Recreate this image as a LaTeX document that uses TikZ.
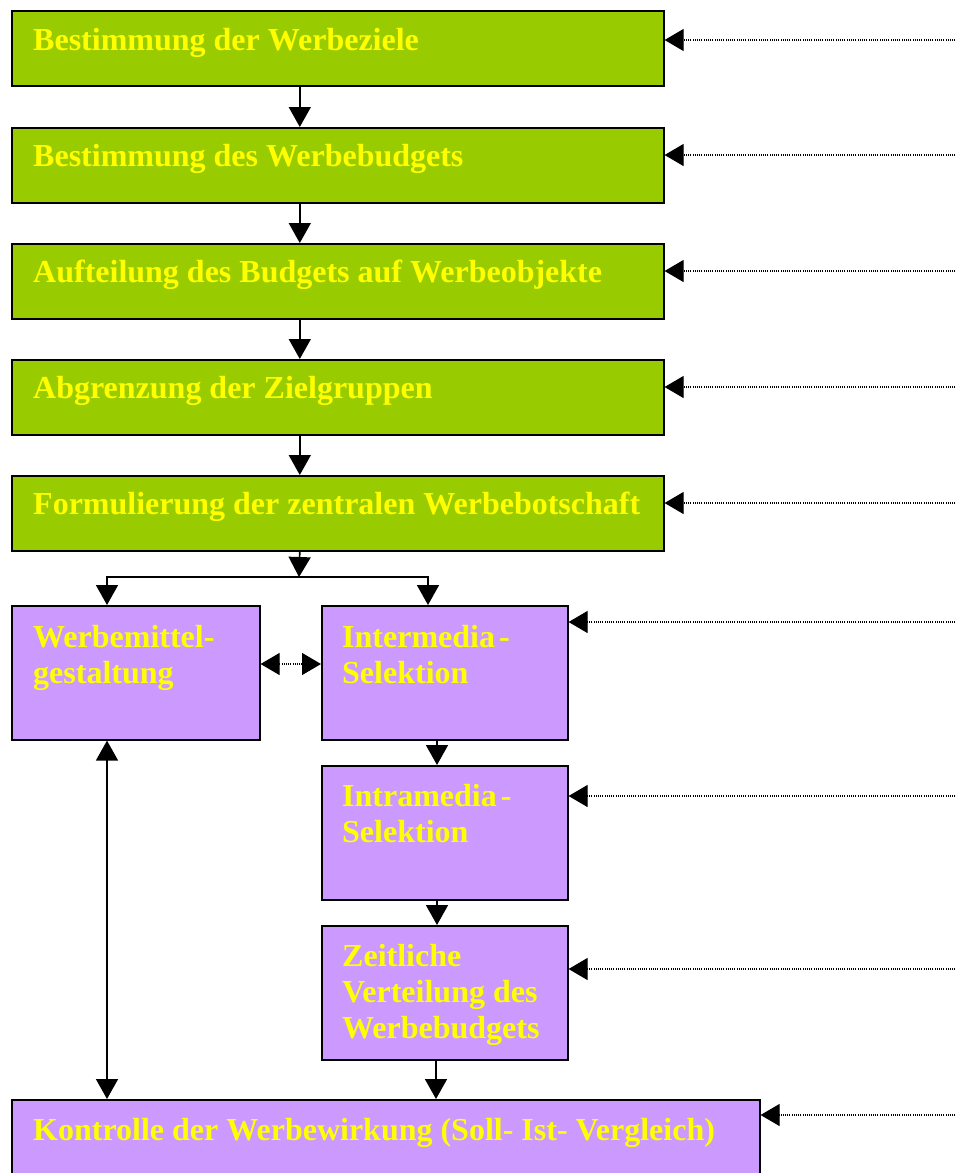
\documentclass[tikz,border=0pt]{standalone}
\usepackage{fontspec}
\setmainfont{Liberation Serif}
\usetikzlibrary{arrows.meta,calc}
\definecolor{stagegreen}{HTML}{99CC00}
\definecolor{mediaviolet}{HTML}{CC99FF}
\definecolor{titleyellow}{HTML}{FFFF00}

\begin{document}
\begin{tikzpicture}[x=1pt,y=-1pt,
  box/.style={draw=black, line width=1.6pt, inner sep=0pt, anchor=north west},
  greenbox/.style={box, fill=stagegreen, minimum width=652pt, minimum height=75pt},
  violetbox/.style={box, fill=mediaviolet, minimum width=246pt, minimum height=134pt},
  title/.style={anchor=base west, inner sep=0pt, text=titleyellow,
    font=\bfseries\fontsize{32}{36}\selectfont},
  flow/.style={line width=1.6pt, -{Triangle[width=22pt,length=20pt]}},
  bothflow/.style={line width=1.6pt, {Triangle[width=22pt,length=20pt]}-{Triangle[width=22pt,length=20pt]}},
  feed/.style={line width=1.2pt, dash pattern=on 1.1pt off 1.1pt, -{Triangle[width=22pt,length=19pt]}},
  bothfeed/.style={line width=1.2pt, dash pattern=on 1.1pt off 1.1pt,
    {Triangle[width=22pt,length=19pt]}-{Triangle[width=22pt,length=19pt]}},
]
\useasboundingbox (0,0) rectangle (957,1173);

% planning stages
\node[greenbox] (g1) at (11,10) {};
\node[greenbox] (g2) at (11,127) {};
\node[greenbox] (g3) at (11,243) {};
\node[greenbox] (g4) at (11,359) {};
\node[greenbox] (g5) at (11,475) {};

\node[title] (tg1) at ($(g1.north west)+(22,40)$) {Bestimmung der Werbeziele};
\node[title] (tg2) at ($(g2.north west)+(22,39)$) {Bestimmung des Werbebudgets};
\node[title] (tg3) at ($(g3.north west)+(22,39)$) {Aufteilung des Budgets auf Werbeobjekte};
\node[title] (tg4) at ($(g4.north west)+(22,39)$) {Abgrenzung der Zielgruppen};
\node[title] (tg5) at ($(g5.north west)+(22,39)$) {Formulierung der zentralen Werbebotschaft};

% media planning
\node[violetbox, minimum width=248pt] (pw) at (11,605) {};
\node[violetbox] (pi) at (321,605) {};
\node[violetbox] (pa) at (321,765) {};
\node[violetbox] (pz) at (321,925) {};
\node[box, fill=mediaviolet, minimum width=748pt, minimum height=110pt] (pk) at (11,1099) {};

\node[title] (tpw) at ($(pw.north west)+(22,42)$) {\parbox[t]{230pt}{\raggedright Werbemittel-\\gestaltung}};
\node[title] (tpi) at ($(pi.north west)+(21,42)$) {\parbox[t]{230pt}{\raggedright Intermedia\kern4pt-\\Selektion}};
\node[title] (tpa) at ($(pa.north west)+(21,41)$) {\parbox[t]{230pt}{\raggedright Intramedia\kern4pt-\\Selektion}};
\node[title] (tpz) at ($(pz.north west)+(21,41)$) {\parbox[t]{230pt}{\raggedright Zeitliche\\Verteilung des\\Werbebudgets}};
\node[title] (tpk) at ($(pk.north west)+(22,41)$) {Kontrolle der Werbewirkung (Soll- Ist- Vergleich)};

% main sequence
\draw[flow] ($(g1.south)+(-38,0)$) -- ($(g2.north)+(-38,0)$);
\draw[flow] ($(g2.south)+(-38,0)$) -- ($(g3.north)+(-38,0)$);
\draw[flow] ($(g3.south)+(-38,0)$) -- ($(g4.north)+(-38,0)$);
\draw[flow] ($(g4.south)+(-38,0)$) -- ($(g5.north)+(-38,0)$);

% fork into the two media branches
\coordinate (fork) at (299,577);
\draw[flow] ($(g5.south)+(-38,0)$) -- (fork);
\draw[flow] (fork) -| ($(pw.north west)+(96,0)$);
\draw[flow] (fork) -| ($(pi.north west)+(107,0)$);

\draw[bothfeed] (pw.east |- 0,664) -- (pi.west |- 0,664);

\draw[flow] ($(pi.south west)+(116,0)$) -- ($(pa.north west)+(116,0)$);
\draw[flow] ($(pa.south west)+(116,0)$) -- ($(pz.north west)+(116,0)$);
\draw[flow] ($(pz.south west)+(115,0)$) -- ($(pk.north west)+(425,0)$);
\draw[bothflow] ($(pw.south west)+(96,0)$) -- ($(pk.north west)+(96,0)$);

% feedback inputs from the right
\coordinate (s1) at (962,40);
\coordinate (s2) at (962,155);
\coordinate (s3) at (962,271);
\coordinate (s4) at (962,387);
\coordinate (s5) at (962,503);
\coordinate (s6) at (962,622);
\coordinate (s7) at (962,796);
\coordinate (s8) at (962,969);
\coordinate (s9) at (962,1115);
\draw[feed] (s1) -- (s1 -| g1.east);
\draw[feed] (s2) -- (s2 -| g2.east);
\draw[feed] (s3) -- (s3 -| g3.east);
\draw[feed] (s4) -- (s4 -| g4.east);
\draw[feed] (s5) -- (s5 -| g5.east);
\draw[feed] (s6) -- (s6 -| pi.east);
\draw[feed] (s7) -- (s7 -| pa.east);
\draw[feed] (s8) -- (s8 -| pz.east);
\draw[feed] (s9) -- (s9 -| pk.east);
\end{tikzpicture}
\end{document}
